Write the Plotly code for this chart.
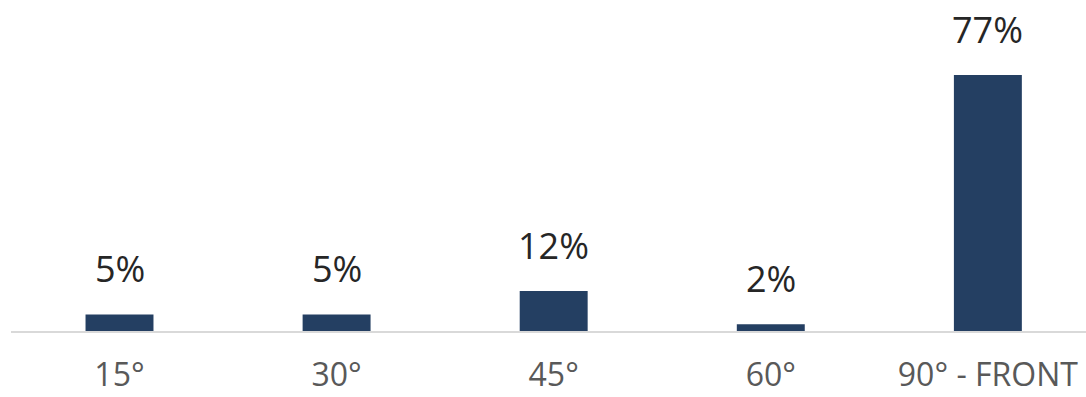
import plotly.graph_objects as go

categories = ["15°", "30°", "45°", "60°", "90° - FRONT"]
shares = [5, 5, 12, 2, 77]
value_labels = ["5%", "5%", "12%", "2%", "77%"]

bar_color = "#243F62"
font_family = "Open Sans, Noto Sans, sans-serif"

fig = go.Figure(
    go.Bar(
        x=list(range(len(categories))),
        y=shares,
        width=0.313,
        marker=dict(color=bar_color, line=dict(width=0)),
        hoverinfo="skip",
    )
)

for i, (v, lab) in enumerate(zip(shares, value_labels)):
    fig.add_annotation(
        x=i, y=v, text=lab, showarrow=False,
        yanchor="bottom", yshift=19,
        font=dict(family=font_family, size=36, color="#262626"),
    )

fig.update_layout(
    width=1086, height=397,
    margin=dict(l=11, r=0, t=0, b=66),
    paper_bgcolor="white", plot_bgcolor="white",
    showlegend=False,
    xaxis=dict(
        range=[-0.4998, 4.452],
        tickmode="array",
        tickvals=list(range(len(categories))),
        ticktext=categories,
        showgrid=False, zeroline=False,
        showline=True, linecolor="#D9D9D9", linewidth=2,
        ticks="", ticklabelstandoff=15, automargin=False,
        tickfont=dict(family=font_family, size=32, color="#595959"),
    ),
    yaxis=dict(
        range=[0, 99.55],
        visible=False,
    ),
)

fig.write_html("out.html")
